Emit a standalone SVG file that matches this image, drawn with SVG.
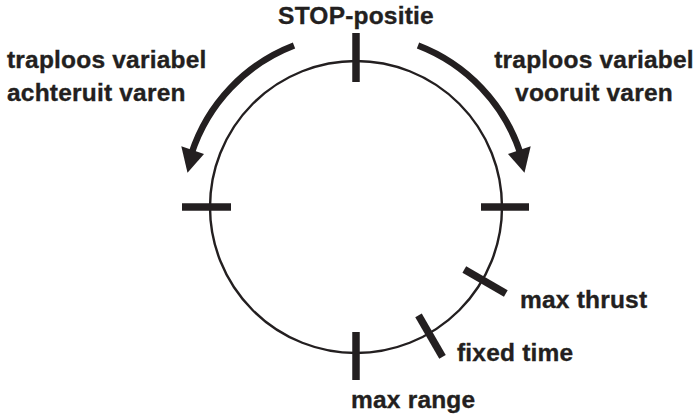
<svg xmlns="http://www.w3.org/2000/svg" width="696" height="419" viewBox="0 0 696 419">
  <defs>
    <style>
      .lbl { font-family: "Liberation Sans", Arial, sans-serif; font-weight: bold; font-size: 24.5px; letter-spacing: 0.2px; fill: #231f20; stroke: #231f20; stroke-width: 0.35px; }
      .tick { stroke: #231f20; stroke-width: 7.5; fill: none; }
      .ring { stroke: #231f20; stroke-width: 2.4; fill: none; }
      .shaft { stroke: #231f20; stroke-width: 6.5; fill: none; }
      .head { fill: #231f20; }
    </style>
  </defs>
  <rect width="696" height="419" fill="#ffffff"/>

  <g id="dial">
    <circle class="ring" cx="356" cy="207" r="146"/>
  </g>

  <g id="connectors">
    <path class="shaft" d="M 294 45.5 A 173 173 0 0 0 191.5 153.5"/>
    <polygon class="head" points="204,154 181.3,146.2 187.5,172.7"/>
    <path class="shaft" d="M 418 45.5 A 173 173 0 0 1 520.5 153.5"/>
    <polygon class="head" points="508,154 530.7,146.2 524.5,172.7"/>
  </g>

  <g id="stop">
    <line class="tick" x1="356" y1="82" x2="356" y2="33"/>
    <text class="lbl" x="356" y="24" text-anchor="middle">STOP-positie</text>
  </g>

  <g id="achteruit">
    <line class="tick" x1="231" y1="207" x2="182" y2="207"/>
    <text class="lbl" x="7" y="68">traploos variabel</text>
    <text class="lbl" x="7" y="101">achteruit varen</text>
  </g>

  <g id="vooruit">
    <line class="tick" x1="481" y1="207" x2="529" y2="207"/>
    <text class="lbl" x="594" y="68" text-anchor="middle">traploos variabel</text>
    <text class="lbl" x="594" y="101" text-anchor="middle">vooruit varen</text>
  </g>

  <g id="max-thrust">
    <line class="tick" x1="464.3" y1="269.5" x2="505.8" y2="293.5"/>
    <text class="lbl" x="520" y="308">max thrust</text>
  </g>

  <g id="fixed-time">
    <line class="tick" x1="418.5" y1="315.3" x2="442.5" y2="356.8"/>
    <text class="lbl" x="457" y="361">fixed time</text>
  </g>

  <g id="max-range">
    <line class="tick" x1="356" y1="332" x2="356" y2="380"/>
    <text class="lbl" x="351" y="408">max range</text>
  </g>
</svg>
